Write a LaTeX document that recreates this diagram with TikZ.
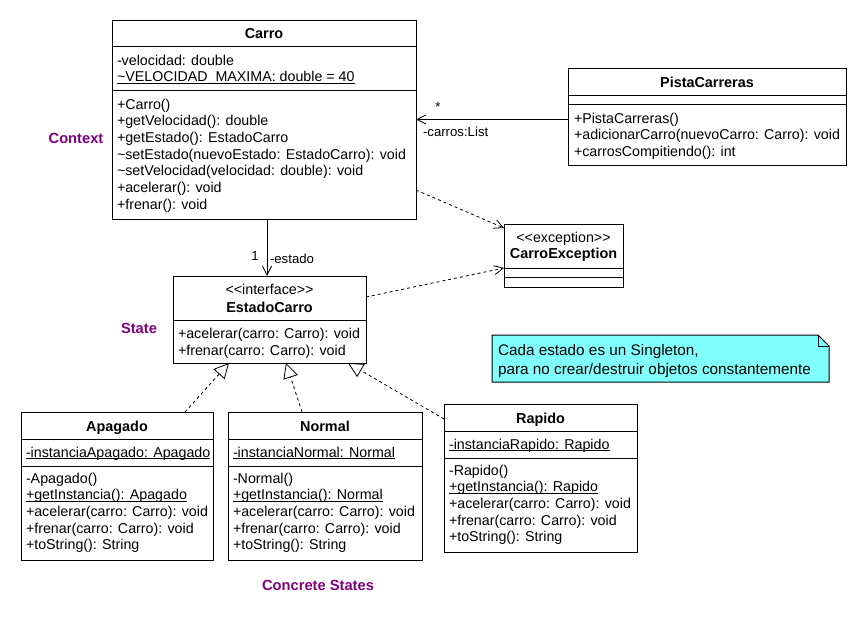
\documentclass[tikz,border=0pt]{standalone}
\usepackage{fontspec}
\setmainfont{Liberation Sans}
\usetikzlibrary{arrows.meta,fit}
\definecolor{lbl}{RGB}{128,0,128}
\definecolor{notefill}{RGB}{128,255,255}
\newcommand{\ulx}[1]{\setbox0\hbox{#1}\rlap{\rule[-2.3pt]{\wd0}{0.9pt}}\box0}
\begin{document}
\begin{tikzpicture}[x=1pt,y=-1pt,
  box/.style={draw, line width=1pt, inner sep=0pt, outer sep=0pt, fill=white},
  sepline/.style={line width=1pt},
  txt/.style={inner sep=0pt, outer sep=0pt, font=\fontsize{14.25}{16.7}\selectfont, anchor=base west},
  ctxt/.style={txt, anchor=base},
  ttl/.style={txt, font=\fontsize{14.4}{16.7}\selectfont\bfseries, anchor=base},
  notetxt/.style={txt, font=\fontsize{15.3}{19}\selectfont},
  role/.style={inner sep=0pt, outer sep=0pt, font=\fontsize{13.2}{15}\selectfont, anchor=base west},
  plabel/.style={inner sep=0pt, outer sep=0pt, font=\fontsize{14.7}{17}\selectfont\bfseries, text=lbl, anchor=base},
  assoc/.style={line width=0.8pt, -{Straight Barb[length=9pt,width=9pt,line width=0.8pt]}},
  depend/.style={line width=0.8pt, dash pattern=on 3pt off 3pt, -{Straight Barb[length=9pt,width=9pt,line width=0.8pt]}},
  realize/.style={line width=0.8pt, dash pattern=on 3pt off 3pt, -{Triangle[open,length=15pt,width=15pt,line width=0.8pt]}},
]
\fill[white] (0,0) rectangle (867,624);
\useasboundingbox (0,0) rectangle (867,624);

% ---------- Carro ----------
\node[box, fit={(112,20) (416,219)}] (carro) {};
\draw[sepline] (112,46) -- (416,46);
\draw[sepline] (112,90) -- (416,90);
\node[ttl] (carroT) at (264,38) {Carro};
\node[txt] (carroA1) at (117,65.5) {-velocidad: double};
\node[txt] (carroA2) at (117,81.7) {\ulx{\textasciitilde VELOCIDAD\_MAXIMA: double = 40}};
\node[txt] (carroM1) at (117,109) {+Carro()};
\node[txt] (carroM2) at (117,125.7) {+getVelocidad(): double};
\node[txt] (carroM3) at (117,142.3) {+getEstado(): EstadoCarro};
\node[txt] (carroM4) at (117,159) {\textasciitilde setEstado(nuevoEstado: EstadoCarro): void};
\node[txt] (carroM5) at (117,175.7) {\textasciitilde setVelocidad(velocidad: double): void};
\node[txt] (carroM6) at (117,192.3) {+acelerar(): void};
\node[txt] (carroM7) at (117,209) {+frenar(): void};

% ---------- PistaCarreras ----------
\node[box, fit={(568,68) (846,165)}] (pista) {};
\draw[sepline] (568,95) -- (846,95);
\draw[sepline] (568,104) -- (846,104);
\node[ttl] (pistaT) at (707,87) {PistaCarreras};
\node[txt] (pistaM1) at (574,123) {+PistaCarreras()};
\node[txt] (pistaM2) at (574,139.7) {+adicionarCarro(nuevoCarro: Carro): void};
\node[txt] (pistaM3) at (574,156.4) {+carrosCompitiendo(): int};

% ---------- CarroException ----------
\node[box, fit={(504,224) (623,287)}] (exc) {};
\draw[sepline] (504,268) -- (623,268);
\draw[sepline] (504,277) -- (623,277);
\node[ctxt] (excS) at (563.5,242) {<{}<exception>{}>};
\node[ttl] (excT) at (563.5,258) {CarroException};

% ---------- EstadoCarro ----------
\node[box, fit={(173,276) (366,363)}] (estado) {};
\draw[sepline] (173,320) -- (366,320);
\node[ctxt] (estadoS) at (269.5,294) {<{}<interface>{}>};
\node[ttl] (estadoT) at (269.5,312) {EstadoCarro};
\node[txt] (estadoM1) at (178,338) {+acelerar(carro: Carro): void};
\node[txt] (estadoM2) at (178,355) {+frenar(carro: Carro): void};

% ---------- Apagado ----------
\node[box, fit={(21,412) (213,560)}] (apagado) {};
\draw[sepline] (21,439) -- (213,439);
\draw[sepline] (21,466) -- (213,466);
\node[ttl] (apagadoT) at (117,431) {Apagado};
\node[txt] (apagadoA) at (26,457) {\ulx{-instanciaApagado: Apagado}};
\node[txt] (apagadoM1) at (26,483) {-Apagado()};
\node[txt] (apagadoM2) at (26,499.7) {\ulx{+getInstancia(): Apagado}};
\node[txt] (apagadoM3) at (26,516.4) {+acelerar(carro: Carro): void};
\node[txt] (apagadoM4) at (26,533.1) {+frenar(carro: Carro): void};
\node[txt] (apagadoM5) at (26,549.8) {+toString(): String};

% ---------- Normal ----------
\node[box, fit={(228,412) (422,560)}] (normal) {};
\draw[sepline] (228,439) -- (422,439);
\draw[sepline] (228,466) -- (422,466);
\node[ttl] (normalT) at (325,431) {Normal};
\node[txt] (normalA) at (233,457) {\ulx{-instanciaNormal: Normal}};
\node[txt] (normalM1) at (233,483) {-Normal()};
\node[txt] (normalM2) at (233,499.7) {\ulx{+getInstancia(): Normal}};
\node[txt] (normalM3) at (233,516.4) {+acelerar(carro: Carro): void};
\node[txt] (normalM4) at (233,533.1) {+frenar(carro: Carro): void};
\node[txt] (normalM5) at (233,549.8) {+toString(): String};

% ---------- Rapido ----------
\node[box, fit={(444,404) (637,552)}] (rapido) {};
\draw[sepline] (444,431) -- (637,431);
\draw[sepline] (444,458) -- (637,458);
\node[ttl] (rapidoT) at (540.5,423) {Rapido};
\node[txt] (rapidoA) at (449,449) {\ulx{-instanciaRapido: Rapido}};
\node[txt] (rapidoM1) at (449,475) {-Rapido()};
\node[txt] (rapidoM2) at (449,491.7) {\ulx{+getInstancia(): Rapido}};
\node[txt] (rapidoM3) at (449,508.4) {+acelerar(carro: Carro): void};
\node[txt] (rapidoM4) at (449,525.1) {+frenar(carro: Carro): void};
\node[txt] (rapidoM5) at (449,541.8) {+toString(): String};

% ---------- Note ----------
\draw[line width=1pt, fill=notefill] (492,335) -- (818,335) -- (829,346) -- (829,382) -- (492,382) -- cycle;
\draw[line width=0.8pt] (818,335) -- (818,346) -- (829,346);
\node[notetxt] (note1) at (498,355) {Cada estado es un Singleton,};
\node[notetxt] (note2) at (498,374) {para no crear/destruir objetos constantemente};

% ---------- Pattern labels ----------
\node[plabel] (lblContext) at (76,143) {Context};
\node[plabel] (lblState) at (139,333) {State};
\node[plabel] (lblConcrete) at (318,590) {Concrete States};

% ---------- Connectors ----------
\draw[assoc] (pista.west |- carro.east) -- (carro.east);
\node[role, anchor=base] (mulStar) at (438,111) {*};
\node[role] (roleCarros) at (423,136.5) {-carros:List};

\draw[assoc] ([xshift=-2.5pt]estado.north |- carro.south) -- ([xshift=-2.5pt]estado.north);
\node[role, anchor=base] (mulOne) at (255,260.5) {1};
\node[role] (roleEstado) at (270,263.7) {-estado};

\draw[depend] ([yshift=-70.5pt]carro.east) -- ([yshift=-4pt]exc.north west);
\draw[depend] ([yshift=22.5pt]estado.east) -- ([yshift=-12.5pt]exc.west);

\draw[realize] ([xshift=68pt]apagado.north) -- ([xshift=-40.5pt]estado.south);
\draw[realize] ([xshift=-23pt]normal.north) -- ([xshift=16.5pt]estado.south);
\draw[realize] ([yshift=-15pt]rapido.north west) -- ([xshift=78.5pt]estado.south);
\end{tikzpicture}
\end{document}
